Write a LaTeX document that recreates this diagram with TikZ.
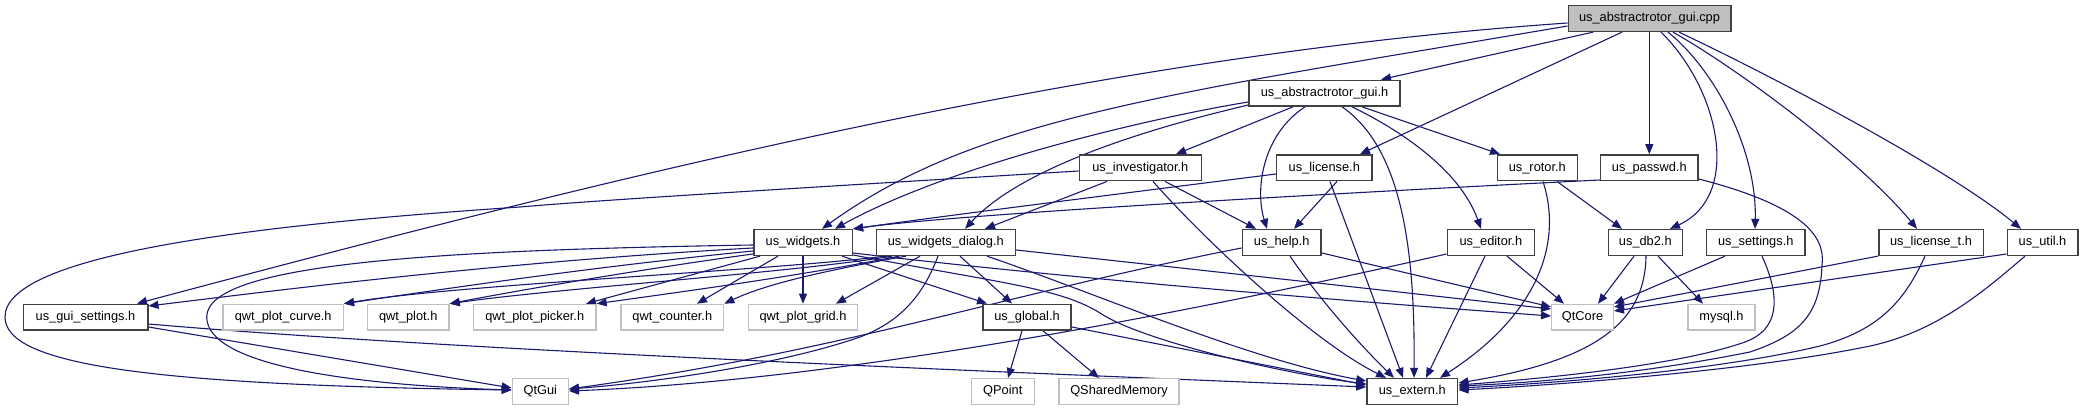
\documentclass[tikz,border=0pt]{standalone}
\usepackage{fontspec}
\setmainfont{Liberation Sans}
\usetikzlibrary{arrows.meta}
\definecolor{edgeblue}{HTML}{191970}
\definecolor{lgray}{HTML}{BFBFBF}
\definecolor{dgray}{HTML}{404040}
\pgfdeclarelayer{bg}
\pgfsetlayers{bg,main}
\begin{document}
\begin{tikzpicture}[x=1pt,y=-1pt,
  box/.style={draw=dgray,line width=1.6pt,fill=white,minimum height=25.7pt,inner sep=0pt,
    font=\fontsize{12.8}{14}\selectfont},
  ext/.style={box,draw=lgray,line width=1.3pt},
  root/.style={box,fill=lgray,draw=dgray},
  e/.style={draw=edgeblue,line width=1.1pt,-{Triangle[length=10pt,width=8pt]}}]
\useasboundingbox (0,0) rectangle (2092,411);
% nodes
\node[root,minimum width=162.4pt] (cpp) at (1649.5,18.5) {us\_abstractrotor\_gui.cpp};
\node[box,minimum width=151pt] (argui) at (1324.5,93.2) {us\_abstractrotor\_gui.h};
\node[box,minimum width=122pt] (inv) at (1140.3,167.8) {us\_investigator.h};
\node[box,minimum width=95.3pt] (lic) at (1324.3,167.8) {us\_license.h};
\node[box,minimum width=80pt] (rot) at (1537.3,167.8) {us\_rotor.h};
\node[box,minimum width=97.3pt] (pw) at (1649.3,167.8) {us\_passwd.h};
\node[box,minimum width=98.6pt] (wid) at (803,242.5) {us\_widgets.h};
\node[box,minimum width=139pt] (wdlg) at (945.8,242.5) {us\_widgets\_dialog.h};
\node[box,minimum width=78.7pt] (help) at (1281.7,242.5) {us\_help.h};
\node[box,minimum width=87pt] (edit) at (1490.8,242.5) {us\_editor.h};
\node[box,minimum width=74pt] (db2) at (1645.3,242.5) {us\_db2.h};
\node[box,minimum width=98.7pt] (sett) at (1755.7,242.5) {us\_settings.h};
\node[box,minimum width=104.6pt] (lict) at (1931,242.5) {us\_license\_t.h};
\node[box,minimum width=70.4pt] (util) at (2042.5,242.5) {us\_util.h};
\node[box,minimum width=124.4pt] (guis) at (85.5,317.2) {us\_gui\_settings.h};
\node[ext,minimum width=120.3pt] (qcurve) at (283.2,317.2) {qwt\_plot\_curve.h};
\node[ext,minimum width=81.7pt] (qplot) at (408.2,317.2) {qwt\_plot.h};
\node[ext,minimum width=122.7pt] (qpick) at (534.7,317.2) {qwt\_plot\_picker.h};
\node[ext,minimum width=102.7pt] (qcount) at (672.3,317.2) {qwt\_counter.h};
\node[ext,minimum width=109.4pt] (qgrid) at (803,317.2) {qwt\_plot\_grid.h};
\node[box,minimum width=88pt] (glob) at (1027,317.2) {us\_global.h};
\node[ext,minimum width=61.6pt] (qtcore) at (1582.5,317.2) {QtCore};
\node[ext,minimum width=67pt] (mysql) at (1721.5,317.2) {mysql.h};
\node[ext,minimum width=56pt] (qtgui) at (540.3,391.5) {QtGui};
\node[ext,minimum width=63pt] (qpoint) at (1002.8,391.5) {QPoint};
\node[ext,minimum width=120pt] (qshm) at (1119,391.5) {QSharedMemory};
\node[box,minimum width=90.7pt] (ext) at (1412.3,391.5) {us\_extern.h};
\begin{pgfonlayer}{bg}
% cpp
\draw[e] (cpp.south -| 1593,0) -- (argui.north -| 1381,0);
\draw[e] (cpp.west |- 0,23) .. controls (1092,56) and (616,176) .. (guis.north -| 137,0);
\draw[e] (cpp.west |- 0,26) .. controls (1168,94) and (977,117) .. (wid.north -| 822,0);
\draw[e] (cpp.south -| 1622,0) -- (lic.north -| 1360,0);
\draw[e] (cpp.south -| pw.north) -- (pw.north);
\draw[e] (cpp.south -| 1661,0) .. controls (1720,90) and (1742,196) .. (db2.north -| 1670,0);
\draw[e] (cpp.south -| 1668,0) .. controls (1715,70) and (1757,150) .. (sett.north -| 1755,0);
\draw[e] (cpp.south -| 1673,0) .. controls (1740,70) and (1860,160) .. (lict.north -| 1917,0);
\draw[e] (cpp.south -| 1679,0) .. controls (1780,80) and (1950,170) .. (util.north -| 2021,0);
% argui
\draw[e] (argui.west |- 0,102) .. controls (1150,118) and (950,165) .. (wid.north -| 835,0);
\draw[e] (argui.west |- 0,105) .. controls (1100,140) and (1010,180) .. (wdlg.north -| 965,0);
\draw[e] (argui.south -| 1293,0) -- (inv.north -| 1176,0);
\draw[e] (argui.south -| 1305,0) .. controls (1262,135) and (1255,190) .. (help.north -| 1267,0);
\draw[e] (argui.south -| 1342,0) .. controls (1405,150) and (1415,260) .. (ext.north -| 1414,0);
\draw[e] (argui.south -| 1352,0) .. controls (1400,130) and (1460,170) .. (edit.north -| 1481,0);
\draw[e] (argui.south -| 1362,0) -- (rot.north -| 1500,0);
% inv
\draw[e] (inv.west |- 0,171) .. controls (800,188) and (600,200) .. (520,207) .. controls (250,225) and (5,255) .. (5,317) .. controls (5,365) and (150,385) .. (qtgui.west |- 0,390);
\draw[e] (inv.south -| 1107,0) -- (wdlg.north -| 985,0);
\draw[e] (inv.south -| 1165,0) -- (help.north -| 1256,0);
\draw[e] (inv.south -| 1153,0) .. controls (1200,235) and (1310,340) .. (ext.north -| 1386,0);
% lic
\draw[e] (lic.west |- 0,174) .. controls (1150,190) and (950,215) .. (wid.north east);
\draw[e] (lic.south -| 1337,0) -- (help.north -| 1294,0);
\draw[e] (lic.south -| 1330,0) -- (ext.north -| 1403,0);
% rot
\draw[e] (rot.south -| 1557,0) -- (db2.north -| 1622,0);
\draw[e] (rot.south -| 1543,0) .. controls (1565,250) and (1530,320) .. (ext.north -| 1440,0);
% pw
\draw[e] (pw.west |- 0,180) .. controls (1300,195) and (950,215) .. (wid.north east);
\draw[e] (pw.east |- 0,179) .. controls (1800,205) and (1826,235) .. (1822,265) .. controls (1820,315) and (1800,335) .. (1750,352) .. controls (1650,372) and (1550,382) .. (ext.east |- 0,386);
% db2
\draw[e] (db2.south -| 1634,0) -- (qtcore.north -| 1598,0);
\draw[e] (db2.south -| 1658,0) -- (mysql.north -| 1703,0);
\draw[e] (db2.south -| 1646,0) .. controls (1645,320) and (1600,360) .. (ext.east |- 0,383);
% sett
\draw[e] (sett.south -| 1725,0) -- (qtcore.north east);
\draw[e] (sett.south -| 1762,0) .. controls (1782,300) and (1778,330) .. (1745,342) .. controls (1680,365) and (1550,378) .. (ext.east |- 0,385);
% lict
\draw[e] (lict.south west) -- (qtcore.east |- 0,307);
\draw[e] (lict.south -| 1925,0) .. controls (1905,300) and (1880,330) .. (1820,346) .. controls (1720,370) and (1560,383) .. (ext.east |- 0,388);
% util
\draw[e] (util.west |- 0,254) -- (qtcore.east |- 0,311);
\draw[e] (util.south -| 2025,0) .. controls (1985,290) and (1935,335) .. (1860,348) .. controls (1750,370) and (1560,385) .. (ext.east |- 0,390);
% edit
\draw[e] (edit.west |- 0,254) .. controls (1200,310) and (850,380) .. (qtgui.east |- 0,391);
\draw[e] (edit.south -| 1507,0) -- (qtcore.north -| 1564,0);
\draw[e] (edit.south -| 1485,0) -- (ext.north -| 1426,0);
% help
\draw[e] (help.west |- 0,248) .. controls (1000,295) and (850,350) .. (qtgui.east |- 0,389);
\draw[e] (help.east |- 0,253) -- (qtcore.west |- 0,307);
\draw[e] (help.south -| 1290,0) .. controls (1320,300) and (1360,345) .. (ext.north -| 1394,0);
% wid
\draw[e] (wid.west |- 0,248) .. controls (500,262) and (280,290) .. (guis.east |- 0,306);
\draw[e] (wid.west |- 0,245) .. controls (450,250) and (206.7,262) .. (206.7,317) .. controls (206.7,365) and (350,385) .. (qtgui.west |- 0,390);
\draw[e] (wid.west |- 0,251) .. controls (600,266) and (450,288) .. (qcurve.north east);
\draw[e] (wid.west |- 0,254) .. controls (650,268) and (520,290) .. (qplot.north east);
\draw[e] (wid.south -| 760,0) -- (qpick.north -| 586,0);
\draw[e] (wid.south -| 778,0) -- (qcount.north -| 697,0);
\draw[e] (wid.south) -- (qgrid.north);
\draw[e] (wid.south -| 842,0) -- (glob.north -| 987,0);
\draw[e] (wid.east |- 0,253) .. controls (1100,282) and (1400,305) .. (qtcore.west |- 0,316);
\draw[e] (wid.east |- 0,255) .. controls (1000,283) and (1060,288) .. (1100,313) .. controls (1140,340) and (1280,373) .. (ext.west |- 0,384);
% wdlg
\draw[e] (wdlg.south -| 885,0) .. controls (780,270) and (450,285) .. (qcurve.north east);
\draw[e] (wdlg.south -| 892,0) .. controls (790,273) and (560,288) .. (qplot.north east);
\draw[e] (wdlg.south -| 899,0) .. controls (800,276) and (680,292) .. (qpick.north east);
\draw[e] (wdlg.south -| 906,0) .. controls (840,268) and (770,282) .. (qcount.north east);
\draw[e] (wdlg.south -| 920,0) -- (qgrid.north -| 836,0);
\draw[e] (wdlg.south -| 938,0) .. controls (925,290) and (905,320) .. (860,337) .. controls (780,365) and (650,383) .. (qtgui.east |- 0,389);
\draw[e] (wdlg.south -| 960,0) -- (glob.north -| 1012,0);
\draw[e] (wdlg.east |- 0,250) .. controls (1200,270) and (1400,292) .. (qtcore.west |- 0,309);
\draw[e] (wdlg.south -| 987,0) .. controls (1100,295) and (1250,360) .. (ext.west |- 0,381);
% glob
\draw[e] (glob.south -| 1022,0) -- (qpoint.north -| 1008,0);
\draw[e] (glob.south -| 1043,0) -- (qshm.north -| 1099,0);
\draw[e] (glob.east |- 0,327) -- (ext.west |- 0,385);
% guis
\draw[e] (guis.east |- 0,327) -- (qtgui.west |- 0,388);
\draw[e] (guis.east |- 0,324) .. controls (450,350) and (1000,372) .. (ext.west |- 0,387);
\end{pgfonlayer}
\end{tikzpicture}
\end{document}
